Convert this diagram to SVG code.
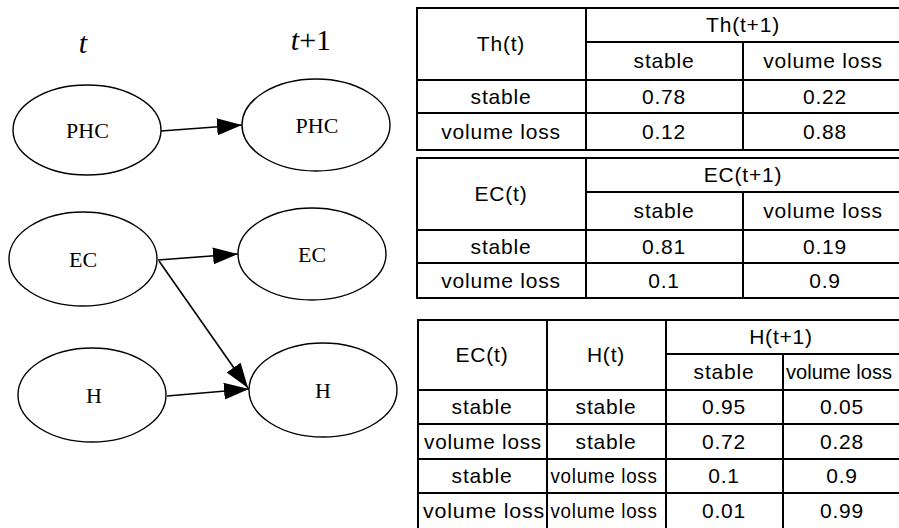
<svg xmlns="http://www.w3.org/2000/svg" width="899" height="528" viewBox="0 0 899 528">
<style>
.node ellipse{fill:#fff;stroke:#000;stroke-width:1.4}
.node text{font-family:"Liberation Serif","Times New Roman",serif;font-size:22px;text-anchor:middle;fill:#000}
.time{font-family:"Liberation Serif","Times New Roman",serif;font-style:italic;font-size:30px;text-anchor:middle;fill:#000}
.edge{stroke:#000;stroke-width:1.6;fill:none;marker-end:url(#ah)}
.tbl line{stroke:#000;stroke-width:2}
.tbl text{font-family:"Liberation Sans",Arial,sans-serif;font-size:21px;letter-spacing:0.8px;text-anchor:middle;fill:#000}
</style>
<defs>
<marker id="ah" markerUnits="userSpaceOnUse" markerWidth="25" markerHeight="17" refX="25" refY="8.5" orient="auto">
<path d="M0,0 L25,8.5 L0,17 z" fill="#000"/>
</marker>
</defs>
<rect width="899" height="528" fill="#fff"/>
<text class="time" x="83" y="53">t</text>
<text class="time" x="311" y="50">t<tspan font-style="normal">+1</tspan></text>

<g id="connectors">
<line class="edge" x1="161" y1="131" x2="242" y2="125"/>
<line class="edge" x1="158" y1="260" x2="238" y2="254"/>
<line class="edge" x1="159" y1="261" x2="248" y2="388"/>
<line class="edge" x1="167" y1="396" x2="249" y2="389"/>
</g>

<g id="PHC_t" class="node"><ellipse cx="87" cy="130" rx="74" ry="45"/><text x="87.5" y="138">PHC</text></g>
<g id="PHC_t1" class="node"><ellipse cx="316" cy="125" rx="74" ry="46"/><text x="317" y="133">PHC</text></g>
<g id="EC_t" class="node"><ellipse cx="83" cy="259" rx="74" ry="47"/><text x="83" y="267">EC</text></g>
<g id="EC_t1" class="node"><ellipse cx="312" cy="254" rx="74" ry="46"/><text x="312" y="262">EC</text></g>
<g id="H_t" class="node"><ellipse cx="92" cy="395" rx="74" ry="47"/><text x="94" y="403">H</text></g>
<g id="H_t1" class="node"><ellipse cx="323" cy="390" rx="74" ry="47"/><text x="323" y="398">H</text></g>

<g id="table_Th" class="tbl">
<line x1="416" y1="8" x2="903" y2="8"/>
<line x1="586" y1="42" x2="903" y2="42"/>
<line x1="416" y1="80" x2="903" y2="80"/>
<line x1="416" y1="113" x2="903" y2="113"/>
<line x1="416" y1="150" x2="903" y2="150"/>
<line x1="417" y1="7" x2="417" y2="151"/>
<line x1="586" y1="7" x2="586" y2="151"/>
<line x1="743" y1="42" x2="743" y2="151"/>
<text x="501" y="51">Th(t)</text>
<text x="743" y="32">Th(t+1)</text>
<text x="664" y="68">stable</text>
<text x="823" y="68">volume loss</text>
<text x="501" y="104">stable</text>
<text x="664" y="104">0.78</text>
<text x="825" y="104">0.22</text>
<text x="501" y="139">volume loss</text>
<text x="664" y="139">0.12</text>
<text x="825" y="139">0.88</text>
</g>

<g id="table_EC" class="tbl">
<line x1="416" y1="158" x2="903" y2="158"/>
<line x1="586" y1="192" x2="903" y2="192"/>
<line x1="416" y1="230" x2="903" y2="230"/>
<line x1="416" y1="263" x2="903" y2="263"/>
<line x1="416" y1="298" x2="903" y2="298"/>
<line x1="417" y1="157" x2="417" y2="299"/>
<line x1="586" y1="157" x2="586" y2="299"/>
<line x1="743" y1="192" x2="743" y2="299"/>
<text x="501" y="201">EC(t)</text>
<text x="743" y="182">EC(t+1)</text>
<text x="664" y="218">stable</text>
<text x="823" y="218">volume loss</text>
<text x="501" y="254">stable</text>
<text x="664" y="254">0.81</text>
<text x="825" y="254">0.19</text>
<text x="501" y="288">volume loss</text>
<text x="664" y="288">0.1</text>
<text x="825" y="288">0.9</text>
</g>

<g id="table_H" class="tbl">
<line x1="417" y1="320" x2="903" y2="320"/>
<line x1="666" y1="354" x2="903" y2="354"/>
<line x1="417" y1="390" x2="903" y2="390"/>
<line x1="417" y1="424" x2="903" y2="424"/>
<line x1="417" y1="459" x2="903" y2="459"/>
<line x1="417" y1="493" x2="903" y2="493"/>
<line x1="418" y1="319" x2="418" y2="528"/>
<line x1="547" y1="319" x2="547" y2="528"/>
<line x1="666" y1="319" x2="666" y2="528"/>
<line x1="783" y1="354" x2="783" y2="528"/>
<text x="482" y="362">EC(t)</text>
<text x="606" y="362">H(t)</text>
<text x="781" y="344">H(t+1)</text>
<text x="724" y="379">stable</text>
<text x="839" y="379" style="letter-spacing:0" textLength="106" lengthAdjust="spacingAndGlyphs">volume loss</text>
<text x="482" y="414">stable</text>
<text x="606" y="414">stable</text>
<text x="724" y="414">0.95</text>
<text x="842" y="414">0.05</text>
<text x="483" y="449" textLength="118" lengthAdjust="spacingAndGlyphs">volume loss</text>
<text x="606" y="449">stable</text>
<text x="724" y="449">0.72</text>
<text x="842" y="449">0.28</text>
<text x="482" y="483">stable</text>
<text x="604" y="483" textLength="107" lengthAdjust="spacingAndGlyphs">volume loss</text>
<text x="724" y="483">0.1</text>
<text x="842" y="483">0.9</text>
<text x="484" y="518" textLength="122" lengthAdjust="spacingAndGlyphs">volume loss</text>
<text x="604" y="518" textLength="107" lengthAdjust="spacingAndGlyphs">volume loss</text>
<text x="724" y="518">0.01</text>
<text x="842" y="518">0.99</text>
</g>
</svg>
